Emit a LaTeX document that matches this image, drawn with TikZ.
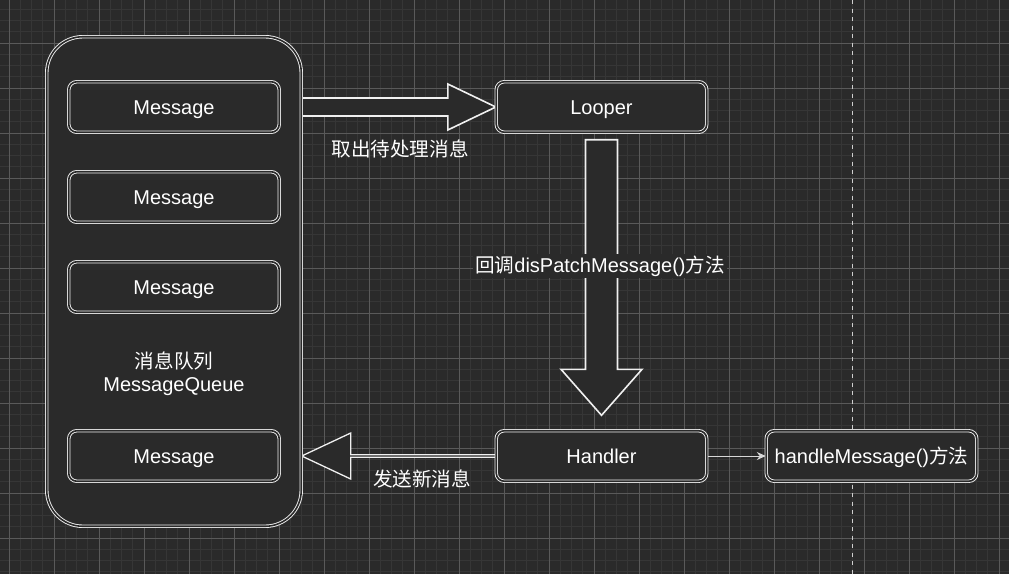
\documentclass[tikz,border=0pt]{standalone}
\usepackage{fontspec}
\setmainfont{Liberation Sans}
\newfontfamily\cjk[Scale=0.98]{Noto Sans CJK SC}
\usetikzlibrary{calc,arrows.meta}
\definecolor{bgc}{HTML}{2A2A2A}
\definecolor{minorc}{HTML}{363636}
\definecolor{majorc}{HTML}{5A5A5A}
\definecolor{linec}{HTML}{F0F0F0}
\definecolor{dashc}{HTML}{CFCFCF}
\definecolor{thinc}{HTML}{D8D8D8}
\pgfdeclarelayer{bglayer}
\pgfdeclarelayer{arrowlayer}
\pgfsetlayers{bglayer,arrowlayer,main}
\begin{document}
\begin{tikzpicture}[x=1pt,y=-1pt,
  box/.style={draw=linec, line width=0.9pt, double=bgc, double distance=1.6pt,
    fill=bgc, rounded corners=8pt, minimum width=210.5pt, minimum height=50.5pt,
    inner sep=0pt, text=white, text height=14.6pt, text depth=0pt,
    font=\fontsize{20}{24}\selectfont},
  container/.style={box, rounded corners=36pt, minimum width=254.5pt, minimum height=489.5pt},
  lbl/.style={text=white, inner sep=1pt, font=\fontsize{20}{23}\selectfont},
  blockarrow/.style={draw=linec, line width=1.6pt, fill=bgc, line join=miter},
  thinarrow/.style={draw=thinc, line width=1pt, -{Stealth[length=9pt,width=8pt]}}]
\useasboundingbox (0,0) rectangle (1009,574);
\begin{pgfonlayer}{bglayer}
  \fill[bgc] (0,0) rectangle (1009,574);
  \foreach \i in {0,...,90} \draw[minorc, line width=0.8pt] ({-2.25+11.25*\i},0) -- ({-2.25+11.25*\i},574);
  \foreach \i in {0,...,51} \draw[minorc, line width=0.8pt] (0,{-2+11.25*\i}) -- (1009,{-2+11.25*\i});
  \foreach \i in {0,...,22} \draw[majorc, line width=0.8pt] ({9+45*\i},0) -- ({9+45*\i},574);
  \foreach \i in {1,...,12} \draw[majorc, line width=0.8pt] (0,{-2+45*\i}) -- (1009,{-2+45*\i});
  \draw[dashc, line width=1.3pt, dash pattern=on 4pt off 4.5pt] (852.5,0) -- (852.5,574);
\end{pgfonlayer}

\node[container] (mq) at (174,281.5) {};
\node[box] (m1) at (174,107) {Message};
\node[box] (m2) at (174,197) {Message};
\node[box] (m3) at (174,287) {Message};
\node[box] (m4) at (174,456) {Message};
\node[lbl, align=center] (mqlabel) at (174,373.5) {{\cjk 消息队列}\\MessageQueue};
\node[box] (looper) at (601.5,107) {Looper};
\node[box] (handler) at (601.5,456) {Handler};
\node[box] (hm) at (871.5,456) {handleMessage(){\cjk 方法}};

\begin{pgfonlayer}{arrowlayer}
  % take message: MessageQueue -> Looper
  \coordinate (rs) at (mq.east |- looper.west);
  \coordinate (rt) at (looper.west);
  \draw[blockarrow] ($(rs)+(0,-9)$) -- ($(rt)+(-48,-9)$) -- ($(rt)+(-48,-23)$) -- (rt)
    -- ($(rt)+(-48,23)$) -- ($(rt)+(-48,9)$) -- ($(rs)+(0,9)$) -- cycle;
  % dispatch: Looper -> Handler
  \coordinate (ds) at ($(looper.south)+(0,7)$);
  \coordinate (dt) at ($(handler.north)+(0,-15)$);
  \draw[blockarrow] ($(ds)+(-16,0)$) -- ($(dt)+(-16,-46)$) -- ($(dt)+(-40.5,-46)$) -- (dt)
    -- ($(dt)+(40.5,-46)$) -- ($(dt)+(16,-46)$) -- ($(ds)+(16,0)$) -- cycle;
  % send new message: Handler -> MessageQueue
  \coordinate (ls) at (handler.west);
  \coordinate (lt) at (mq.east |- handler.west);
  \draw[blockarrow, line width=1.3pt] ($(ls)+(0,-1.2)$) -- ($(lt)+(49,-1.2)$) -- ($(lt)+(49,-23)$) -- (lt)
    -- ($(lt)+(49,23)$) -- ($(lt)+(49,1.2)$) -- ($(ls)+(0,1.2)$) -- cycle;
  % Handler -> handleMessage
  \draw[thinarrow] (handler.east) -- (hm.west);
\end{pgfonlayer}

\node[lbl] (l1) at (400,149) {\cjk 取出待处理消息};
\node[lbl, fill=bgc, inner sep=2pt] (l2) at (600,266) {{\cjk 回调}disPatchMessage(){\cjk 方法}};
\node[lbl] (l3) at (422,479) {\cjk 发送新消息};
\end{tikzpicture}
\end{document}
